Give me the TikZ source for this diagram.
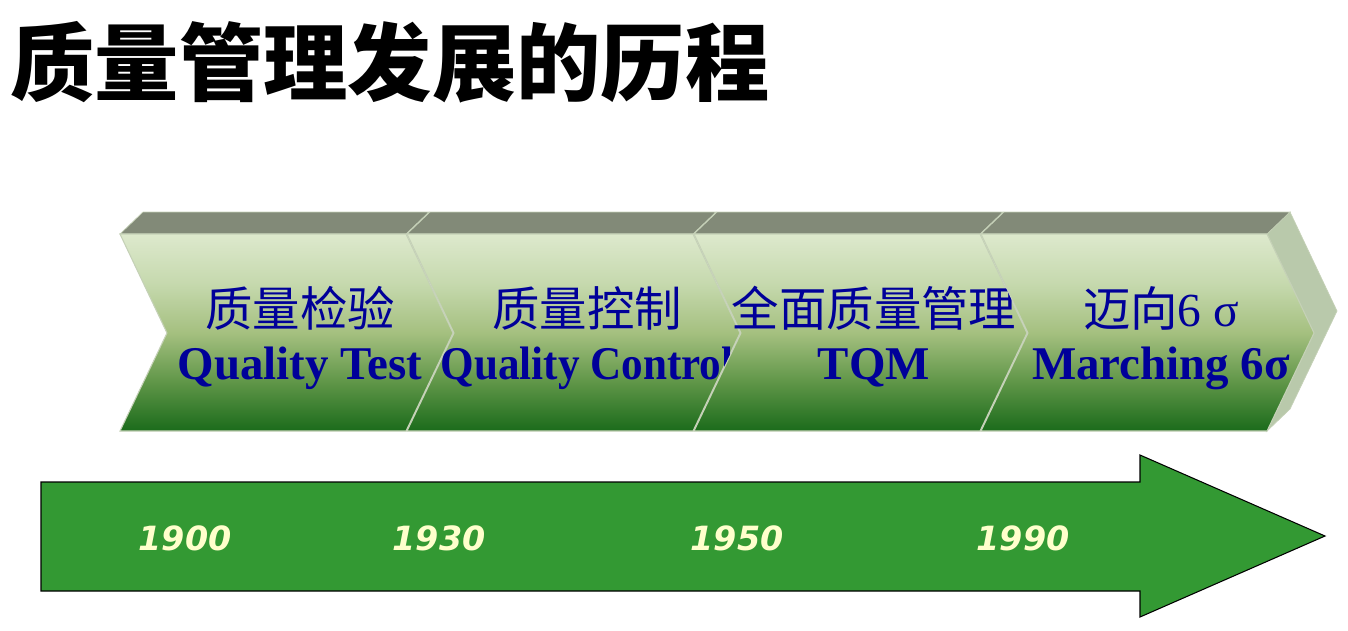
\documentclass[tikz,border=0pt]{standalone}
\usepackage{fontspec}
\setmainfont{Liberation Serif}
\newfontfamily\cjk{Noto Sans CJK SC}
\newfontfamily\yearfont{DejaVu Sans}
\definecolor{chevtop}{HTML}{DDE9CD}
\definecolor{chevhigh}{HTML}{C6D9AE}
\definecolor{chevmid}{HTML}{A5C080}
\definecolor{chevlow}{HTML}{609648}
\definecolor{chevbot}{HTML}{1B6B1B}
\definecolor{chevgray}{HTML}{828A78}
\definecolor{chevside}{HTML}{B9C9AB}
\definecolor{chevedge}{HTML}{C5D1B7}
\definecolor{arrowgreen}{HTML}{339933}
\definecolor{yearyellow}{HTML}{FFFFCC}
\definecolor{textblue}{HTML}{000099}
\pgfdeclareverticalshading{chevshade}{100bp}{color(0bp)=(chevbot); color(25bp)=(chevbot); color(37.5bp)=(chevlow); color(50bp)=(chevmid); color(62.5bp)=(chevhigh); color(75bp)=(chevtop); color(100bp)=(chevtop)}

\begin{document}
\begin{tikzpicture}[x=0.02cm,y=-0.02cm,
		chevface/.style={draw=chevedge,line width=0.6pt,shading=chevshade},
		topface/.style={draw=chevedge,line width=0.4pt,fill=chevgray},
		cntext/.style={anchor=base,inner sep=0,text=textblue,font=\cjk\fontsize{27}{30}\selectfont},
		entext/.style={anchor=base,inner sep=0,text=textblue,font=\bfseries\fontsize{26.7}{30}\selectfont},
		yeartext/.style={anchor=base,inner sep=0,text=yearyellow,font=\yearfont\bfseries\itshape\fontsize{19}{22}\selectfont}]
	\useasboundingbox (0,0) rectangle (1348,630);
	
	\node[anchor=base west,inner sep=0,font=\cjk\bfseries\fontsize{48}{56}\selectfont] (title) at (10,94) {质量管理发展的历程};
	
	% side of the last chevron
	\draw[draw=chevedge,line width=0.4pt,fill=chevside] (1267,234) -- (1290,212) -- (1337,311) -- (1290,409) -- (1267,431) -- (1314,333) -- cycle;
	
	\foreach \x/\cn/\en [count=\i] in {120/质量检验/Quality Test, 407/质量控制/{\scalebox{0.92}[1]{Quality Control}}, 694/全面质量管理/TQM, 981/{迈向{\rmfamily 6 σ}}/Marching 6σ}{
		\draw[topface] (\x,234) -- ++(286,0) -- ++(23,-22) -- ++(-286,0) -- cycle;
		\shade[chevface] (\x,234) -- ++(286,0) -- ++(47,99) -- ++(-47,98) -- ++(-286,0) -- ++(47,-98) -- cycle;
		\node[cntext] (cn\i) at (\x+180,326) {\cn};
		\node[entext] (en\i) at (\x+180,379) {\en};
	}
	
	\draw[black,line width=0.6pt,fill=arrowgreen] (41,482) -- (1140,482) -- (1140,455) -- (1325,536) -- (1140,617) -- (1140,591) -- (41,591) -- cycle;
	
	\foreach \x/\yr [count=\i] in {185/1900,439/1930,737/1950,1023/1990}{
		\node[yeartext] (yr\i) at (\x,550) {\yr};
	}
\end{tikzpicture}
\end{document}
